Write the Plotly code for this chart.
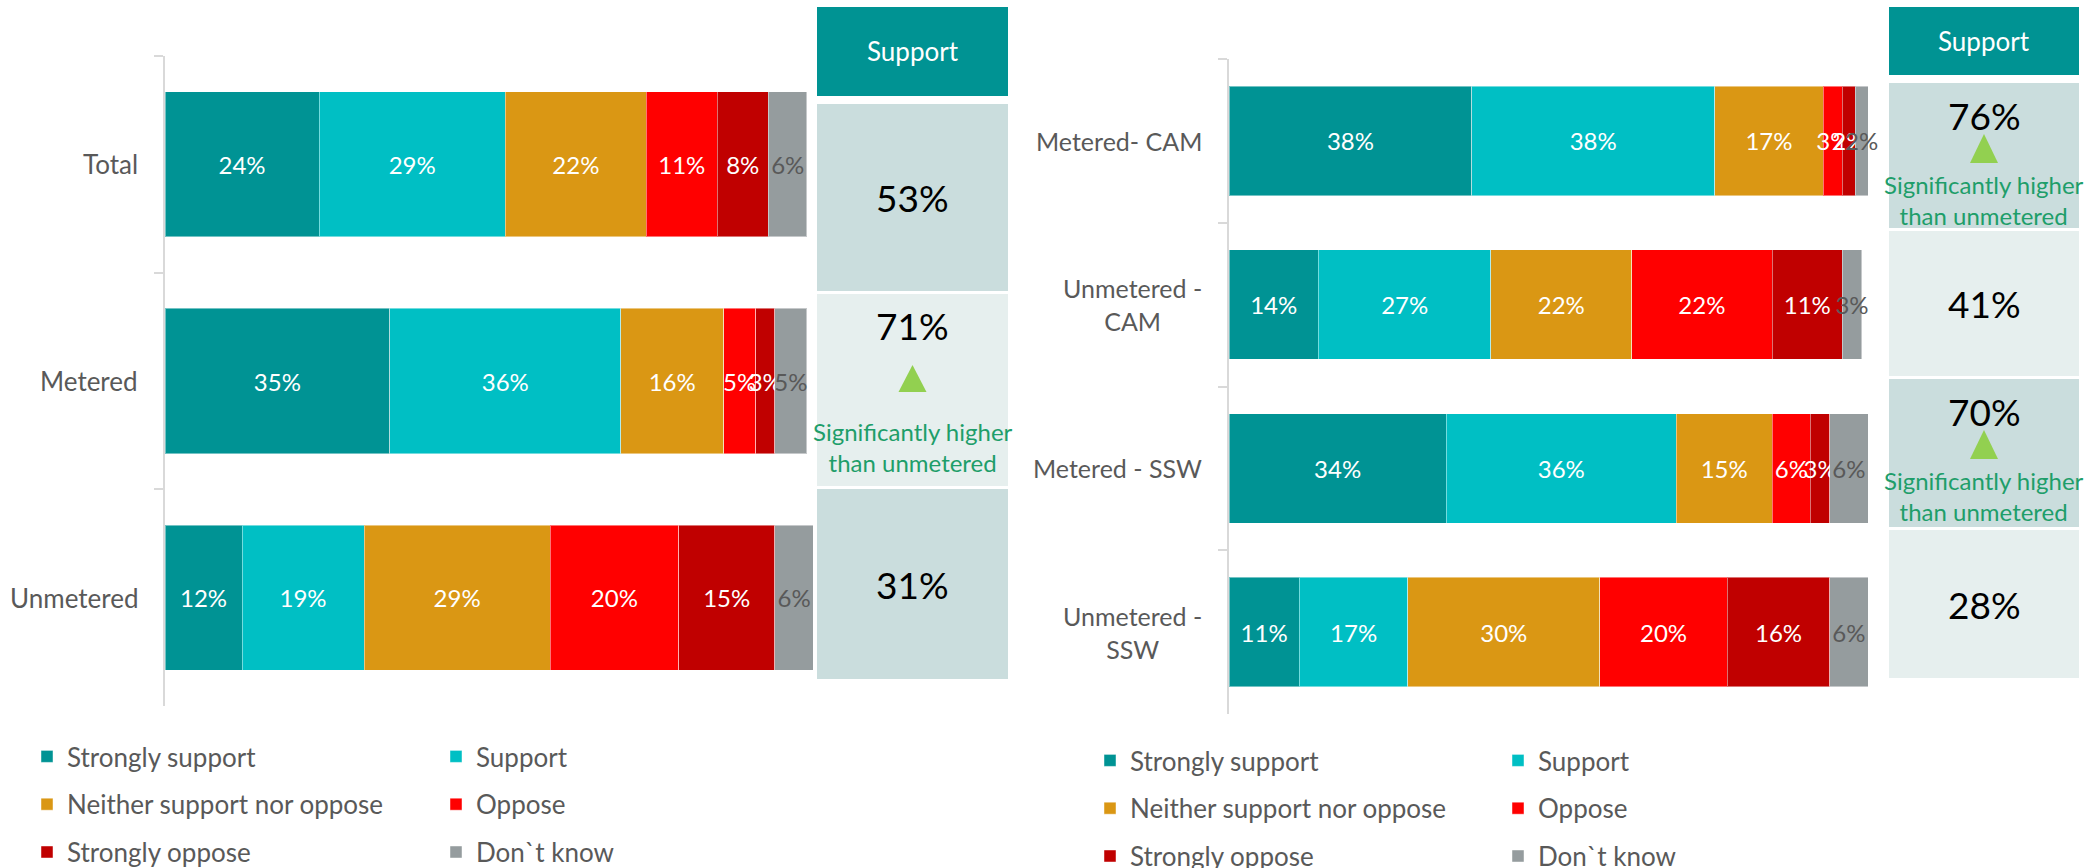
import plotly.graph_objects as go

W, H = 2089, 868

# Response levels and their colours
levels = ["Strongly support", "Support", "Neither support nor oppose",
          "Oppose", "Strongly oppose", "Don`t know"]
level_colors = ["#009394", "#00BFC4", "#DA9714", "#FF0000", "#C00000", "#959C9E"]
label_colors = ["white", "white", "white", "white", "white", "#595959"]

# Left chart: total vs metered / unmetered
left_groups = ["Total", "Metered", "Unmetered"]
left_strongly_support = [24, 35, 12]
left_support = [29, 36, 19]
left_neither = [22, 16, 29]
left_oppose = [11, 5, 20]
left_strongly_oppose = [8, 3, 15]
left_dont_know = [6, 5, 6]
left_significant = [False, True, False]

# Right chart: by region
right_groups = ["Metered- CAM", "Unmetered -<br>CAM", "Metered - SSW", "Unmetered -<br>SSW"]
right_strongly_support = [38, 14, 34, 11]
right_support = [38, 27, 36, 17]
right_neither = [17, 22, 15, 30]
right_oppose = [3, 22, 6, 20]
right_strongly_oppose = [2, 11, 3, 16]
right_dont_know = [2, 3, 6, 6]
right_significant = [True, False, True, False]

panel_title = "Support"
sig_note = "Significantly higher<br>than unmetered"

FONT = "Lato"
GREY = "#595959"


def px_x(p):
    return p / W


def px_y(p):
    return 1 - p / H


left_series = [left_strongly_support, left_support, left_neither,
               left_oppose, left_strongly_oppose, left_dont_know]
right_series = [right_strongly_support, right_support, right_neither,
                right_oppose, right_strongly_oppose, right_dont_know]

fig = go.Figure()

for side, groups, series, xa, ya, legends in [
    ("L", left_groups, left_series, "x", "y", ("legend", "legend2")),
    ("R", right_groups, right_series, "x2", "y2", ("legend3", "legend4")),
]:
    for i, (name, vals) in enumerate(zip(levels, series)):
        fig.add_trace(go.Bar(
            y=groups, x=vals, name=name, orientation="h",
            xaxis=xa, yaxis=ya,
            marker=dict(color=level_colors[i],
                        line=dict(color="rgba(255,255,255,0.45)", width=1)),
            text=[f"{v}%" for v in vals], textposition="inside",
            insidetextanchor="middle", constraintext="none", textangle=0,
            textfont=dict(family=FONT, size=24, color=label_colors[i]),
            cliponaxis=False, hoverinfo="skip",
            legend=legends[i % 2], legendgroup=f"{side}{i}",
        ))

axis_y_common = dict(
    type="category", showgrid=False, zeroline=False, showticklabels=False,
    showline=True, linecolor="#D9D9D9", linewidth=1.5,
    ticks="outside", tickson="boundaries", ticklen=9, tickcolor="#D9D9D9", tickwidth=1.5,
)

fig.update_layout(
    width=W, height=H, margin=dict(l=0, r=0, t=0, b=0, autoexpand=False),
    paper_bgcolor="white", plot_bgcolor="white",
    barmode="stack", bargap=0.33,
    font=dict(family=FONT, color=GREY),
    xaxis=dict(domain=[px_x(165), px_x(813.4)], range=[0, 101], visible=False),
    yaxis=dict(domain=[px_y(706), px_y(56)], range=[2.5, -0.5], **axis_y_common),
    xaxis2=dict(domain=[px_x(1229), px_x(1868)], range=[0, 100], visible=False, anchor="y2"),
    yaxis2=dict(domain=[px_y(714), px_y(59)], range=[3.5, -0.5], anchor="x2", **axis_y_common),
)

legend_common = dict(
    orientation="v", traceorder="grouped", tracegroupgap=11,
    font=dict(family=FONT, size=26, color=GREY),
    bgcolor="rgba(0,0,0,0)", xanchor="left", yanchor="top",
    itemclick=False, itemdoubleclick=False,
)
fig.update_layout(
    legend=dict(x=px_x(27), y=px_y(733), **legend_common),
    legend2=dict(x=px_x(436), y=px_y(733), **legend_common),
    legend3=dict(x=px_x(1090), y=px_y(737), **legend_common),
    legend4=dict(x=px_x(1498), y=px_y(737), **legend_common),
)

# Category labels beside each axis
for g in left_groups:
    fig.add_annotation(x=px_x(140), xref="paper", y=g, yref="y", text=g,
                       xanchor="right", yanchor="middle", showarrow=False, align="center",
                       font=dict(family=FONT, size=26, color=GREY))
for g in right_groups:
    fig.add_annotation(x=px_x(1204), xref="paper", y=g, yref="y2", text=g,
                       xanchor="right", yanchor="middle", showarrow=False, align="center",
                       font=dict(family=FONT, size=25, color=GREY))

# "Support" summary panels: header, one cell per group.
# offs = (value centre, triangle top, triangle bottom, note centre) below cell top
panels = [
    dict(x0=817, x1=1008, header=(7, 96),
         cells=[(104, 291), (294, 486), (489, 679)],
         fills=["#CADDDD", "#E6EFEE", "#CADDDD"],
         offs=(31, 71, 98, 153),
         ss=left_strongly_support, s=left_support, sig=left_significant),
    dict(x0=1889, x1=2079, header=(7, 75),
         cells=[(83, 228), (231, 376), (379, 527), (530, 678)],
         fills=["#CADDDD", "#E6EFEE", "#CADDDD", "#E6EFEE"],
         offs=(32, 51, 80, 117),
         ss=right_strongly_support, s=right_support, sig=right_significant),
]


def paper_text(x, y, text, size, color):
    fig.add_annotation(x=px_x(x), y=px_y(y), xref="paper", yref="paper",
                       xanchor="center", yanchor="middle", align="center",
                       text=text, showarrow=False,
                       font=dict(family=FONT, size=size, color=color))


for p in panels:
    x0, x1 = p["x0"], p["x1"]
    xc = (x0 + x1) / 2
    h0, h1 = p["header"]
    fig.add_shape(type="rect", xref="paper", yref="paper",
                  x0=px_x(x0), x1=px_x(x1), y0=px_y(h1), y1=px_y(h0),
                  fillcolor="#009393", line=dict(width=0), layer="below")
    paper_text(xc, (h0 + h1) / 2, panel_title, 26, "white")
    ov, ot0, ot1, on = p["offs"]
    for (c0, c1), fill, a, b, sig in zip(p["cells"], p["fills"], p["ss"], p["s"], p["sig"]):
        fig.add_shape(type="rect", xref="paper", yref="paper",
                      x0=px_x(x0), x1=px_x(x1), y0=px_y(c1), y1=px_y(c0),
                      fillcolor=fill, line=dict(width=0), layer="below")
        total = a + b
        if sig:
            paper_text(xc, c0 + ov, f"{total}%", 37, "black")
            fig.add_shape(type="path", xref="paper", yref="paper",
                          path=(f"M {px_x(xc - 14)},{px_y(c0 + ot1)} "
                                f"L {px_x(xc + 14)},{px_y(c0 + ot1)} "
                                f"L {px_x(xc)},{px_y(c0 + ot0)} Z"),
                          fillcolor="#92D050", line=dict(width=0))
            paper_text(xc, c0 + on, sig_note, 24, "#1E9E6A")
        else:
            paper_text(xc, (c0 + c1) / 2, f"{total}%", 37, "black")

fig.write_html("out.html")
